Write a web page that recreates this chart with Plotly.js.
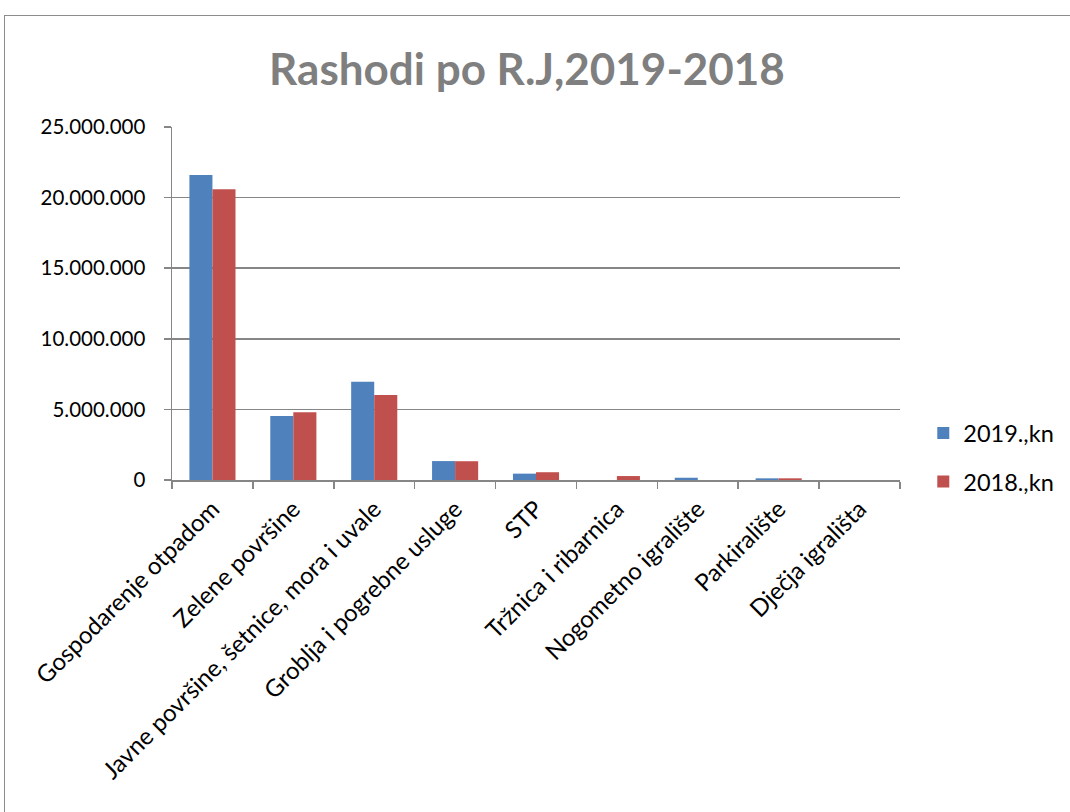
<!DOCTYPE html>
<html>
<head>
<meta charset="utf-8">
<script src="https://cdn.plot.ly/plotly-3.0.1.min.js"></script>
<style>
html,body{margin:0;padding:0;background:#fff;overflow:hidden;}
#frame{position:absolute;left:4px;top:15px;width:1100px;height:900px;border-left:1px solid #8c8c8c;border-top:1px solid #8c8c8c;}
#chart{position:absolute;left:0;top:0;width:1200px;height:812px;}
</style>
</head>
<body>
<div id="frame"></div>
<div id="chart"></div>
<script>
const categories = [
  "Gospodarenje otpadom",
  "Zelene površine",
  "Javne površine, šetnice, mora i uvale",
  "Groblja i pogrebne usluge",
  "STP",
  "Tržnica i ribarnica",
  "Nogometno igralište",
  "Parkiralište",
  "Dječja igrališta"
];
const values2019 = [21600000, 4530000, 6950000, 1340000, 450000, 0, 160000, 120000, 0];
const values2018 = [20600000, 4800000, 6020000, 1330000, 550000, 280000, 0, 120000, 0];
const yTicks = [0, 5000000, 10000000, 15000000, 20000000, 25000000];

const FONT = "Lato, 'Liberation Sans', sans-serif";

const traces = [
  {type: "bar", name: "2019.,kn", x: categories, y: values2019, legendgroup: "a",
   marker: {color: "#4F81BD"}},
  {type: "bar", name: "2018.,kn", x: categories, y: values2018, legendgroup: "b",
   marker: {color: "#C0504D"}}
];

const layout = {
  width: 1200, height: 812,
  paper_bgcolor: "rgba(0,0,0,0)", plot_bgcolor: "rgba(0,0,0,0)",
  separators: ",.",
  margin: {l: 172, r: 300, t: 127, b: 332},
  title: {text: "<b>Rashodi po R.J,2019-2018</b>", font: {family: FONT, size: 44, color: "#7F7F7F"},
          x: 527/1200, xanchor: "center", y: 0.914, yanchor: "middle"},
  barmode: "group",
  bargap: 0.43,
  bargroupgap: 0,
  showlegend: true,
  legend: {x: 1.032, xanchor: "left", y: 0.063, yanchor: "middle",
           font: {family: FONT, size: 23.5, color: "#000"},
           traceorder: "grouped", tracegroupgap: 15,
           itemwidth: 30},
  xaxis: {
    type: "category",
    tickangle: -45,
    tickson: "boundaries",
    ticks: "outside", ticklen: 7, tickcolor: "#868686", tickwidth: 1.5,
    showline: true, linecolor: "#868686", linewidth: 1.5,
    showgrid: false,
    tickfont: {family: FONT, size: 24, color: "#000"},
    ticklabelstandoff: 4,
    automargin: false
  },
  yaxis: {
    range: [0, 25000000],
    tickvals: yTicks,
    tickformat: ",d",
    ticks: "outside", ticklen: 7, tickcolor: "#868686", tickwidth: 1.5,
    showline: true, linecolor: "#868686", linewidth: 1.5,
    showgrid: true, gridcolor: "#868686", gridwidth: 1.5,
    zeroline: false,
    tickfont: {family: FONT, size: 20.5, color: "#000"},
    ticklabelstandoff: 14,
    automargin: false
  }
};

Plotly.newPlot("chart", traces, layout, {displayModeBar: false, staticPlot: true});
</script>
</body>
</html>
